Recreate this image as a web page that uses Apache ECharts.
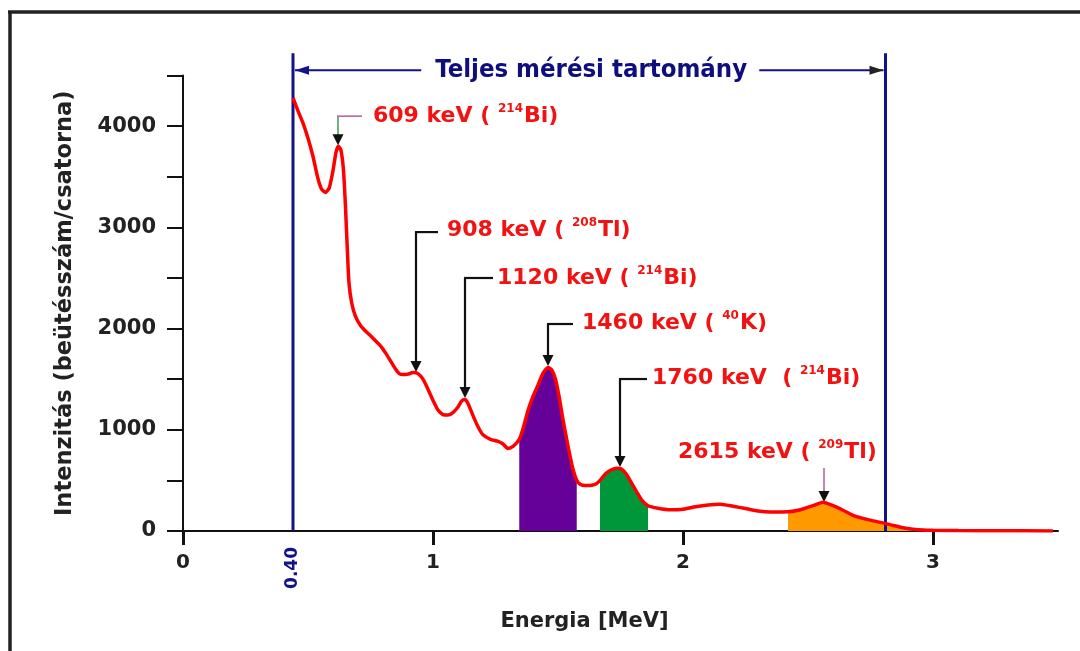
<!DOCTYPE html>
<html><head><meta charset="utf-8">
<script src="https://cdn.jsdelivr.net/npm/echarts@6/dist/echarts.min.js"></script>
<style>html,body{margin:0;padding:0;background:#fff}#c{width:1080px;height:651px}</style>
</head><body><div id="c"></div>
<script>
// ---- data ----
const energy = [0.44,0.46,0.48,0.50,0.52,0.54,0.555,0.57,0.585,0.60,0.612,0.622,0.632,0.642,0.650,0.657,0.664,0.675,0.69,0.71,0.73,0.75,0.77,0.79,0.81,0.83,0.85,0.865,0.88,0.90,0.92,0.94,0.96,0.98,1.00,1.02,1.04,1.06,1.08,1.10,1.115,1.128,1.14,1.16,1.18,1.20,1.23,1.26,1.28,1.30,1.32,1.345,1.36,1.38,1.40,1.42,1.44,1.46,1.475,1.49,1.505,1.52,1.54,1.56,1.575,1.59,1.61,1.635,1.655,1.668,1.69,1.71,1.735,1.755,1.775,1.795,1.815,1.835,1.86,1.90,1.95,2.00,2.05,2.10,2.15,2.20,2.25,2.30,2.35,2.42,2.47,2.52,2.56,2.60,2.64,2.68,2.72,2.76,2.80,2.84,2.88,2.92,2.96,3.00,3.10,3.25,3.48];
const intensity = [4280,4150,4030,3880,3700,3480,3375,3345,3390,3560,3740,3800,3760,3560,3200,2800,2450,2250,2120,2030,1975,1930,1880,1830,1760,1680,1600,1555,1545,1550,1565,1555,1500,1400,1290,1195,1150,1145,1170,1225,1285,1300,1260,1140,1030,950,905,885,860,815,835,905,1010,1190,1330,1440,1560,1615,1590,1500,1320,1100,840,610,500,460,450,452,470,500,565,600,620,610,555,470,385,305,250,225,210,215,240,258,265,245,222,198,188,190,210,250,285,250,205,155,125,100,80,55,32,18,10,7,4,2,1];
const xTickValues = [0,1,2,3];
const yTickValues = [0,500,1000,1500,2000,2500,3000,3500,4000,4500];
const yLabelValues = [0,1000,2000,3000,4000];
const rangeE = [0.44, 2.81];
const rangeLabel = '0.40';
const rangeTitle = 'Teljes mérési tartomány';
const bandStart = [1.345, 1.668, 2.42];
const bandEnd = [1.575, 1.86, 2.96];
const peakText = ['609 keV ( ', '908 keV ( ', '1120 keV ( ', '1460 keV ( ', '1760 keV  ( ', '2615 keV ( '];
const peakMass = ['214', '208', '214', '40', '214', '209'];
const peakElem = ['Bi)', 'Tl)', 'Bi)', 'K)', 'Bi)', 'Tl)'];
const tipE = [0.62, 0.932, 1.128, 1.46, 1.748, 2.564];
const tipI = [3812, 1570, 1314, 1630, 632, 286];
const xName = 'Energia [MeV]';
const yName = 'Intenzitás (beütésszám/csatorna)';

// ---- styles / layout (not data) ----
const bandColors = ['#650099', '#00973a', '#ff9900'];
const FONT = 'DejaVu Sans';
const RED = '#f21212';
const NAVY = '#12128c';
// per-annotation layout, pixel offsets from arrow tip
const annLayout = [
  {dy:-29, hx:24, tx:35, ty:-29, thin:true, vcol:'#3f9a5a', hcol:'#b55a9c'},
  {dy:-140, hx:22, tx:31, ty:-142},
  {dy:-120, hx:28, tx:32, ty:-120},
  {dy:-42, hx:25, tx:34, ty:-43},
  {dy:-88, hx:27, tx:32, ty:-89},
  {dy:-34, hx:0, tx:-146, ty:-50, thin:true, vcol:'#b55a9c', noH:true}
];

const mainData = energy.map((e, i) => [e, intensity[i]]);
const bandSeries = bandStart.map((s, k) => ({
  type: 'line', data: mainData.filter(p => p[0] >= s && p[0] <= bandEnd[k]),
  showSymbol: false, smooth: 0.2, lineStyle: {width: 0}, z: 2,
  areaStyle: {color: bandColors[k], opacity: 1}, silent: true
}));
const rangeSeries = rangeE.map(e => ({
  type: 'line', data: [[e, 0], [e, 4720]], showSymbol: false, clip: false, z: 3,
  lineStyle: {color: NAVY, width: 3}, silent: true
}));

const chart = echarts.init(document.getElementById('c'));
chart.setOption({
  animation: false,
  backgroundColor: '#fff',
  grid: {left: 183, right: 22, top: 75.5, bottom: 120},
  xAxis: {
    type: 'value', min: 0, max: 3.5,
    name: xName, nameLocation: 'middle', nameGap: 80,
    nameTextStyle: {fontFamily: FONT, fontWeight: 'bold', fontSize: 21, color: '#222', padding: [0, 72, 0, 0], verticalAlign: 'top'},
    axisLine: {show: true, lineStyle: {color: '#111', width: 2}},
    axisTick: {show: true, length: 14, lineStyle: {color: '#111', width: 3}, customValues: xTickValues},
    axisLabel: {customValues: xTickValues, margin: 22, fontFamily: FONT, fontWeight: 'bold', fontSize: 20, color: '#222',
      formatter: v => String(v)},
    splitLine: {show: false}
  },
  yAxis: {
    type: 'value', min: 0, max: 4500,
    name: yName, nameLocation: 'middle', nameGap: 106, nameRotate: 90,
    nameTextStyle: {fontFamily: FONT, fontWeight: 'bold', fontSize: 22.5, color: '#222'},
    axisLine: {show: true, lineStyle: {color: '#111', width: 2}},
    axisTick: {show: true, length: 16, lineStyle: {color: '#111', width: 2}, customValues: yTickValues},
    axisLabel: {customValues: yLabelValues, margin: 27, fontFamily: FONT, fontWeight: 'bold', fontSize: 21, color: '#222',
      formatter: v => String(v)},
    splitLine: {show: false}
  },
  series: [
    ...bandSeries,
    ...rangeSeries,
    {type: 'line', data: mainData, showSymbol: false, smooth: 0.2, z: 5,
     lineStyle: {color: '#ff0000', width: 3.5}, silent: true}
  ]
});

const px = (e, i) => chart.convertToPixel({gridIndex: 0}, [e, i]);
const g = [];
// frame
g.push({type: 'line', shape: {x1: 10, y1: 12, x2: 10, y2: 660}, style: {stroke: '#222', lineWidth: 3.5}});
g.push({type: 'line', shape: {x1: 8, y1: 12, x2: 1080, y2: 12}, style: {stroke: '#222', lineWidth: 3.5}});
// range arrows and title
const ax0 = px(rangeE[0], 4553), ax1 = px(rangeE[1], 4553);
const ay = ax0[1], cx = (ax0[0] + ax1[0]) / 2 + 2;
g.push({type: 'line', shape: {x1: ax0[0] + 2, y1: ay, x2: cx - 170, y2: ay}, style: {stroke: NAVY, lineWidth: 2}});
g.push({type: 'line', shape: {x1: cx + 168, y1: ay, x2: ax1[0] - 2, y2: ay}, style: {stroke: NAVY, lineWidth: 2}});
g.push({type: 'polygon', shape: {points: [[ax0[0] + 2, ay], [ax0[0] + 16, ay - 4.5], [ax0[0] + 16, ay + 4.5]]}, style: {fill: NAVY}});
g.push({type: 'polygon', shape: {points: [[ax1[0] - 2, ay], [ax1[0] - 16, ay - 4.5], [ax1[0] - 16, ay + 4.5]]}, style: {fill: '#222'}});
g.push({type: 'text', style: {text: rangeTitle, x: cx, y: ay, align: 'center', verticalAlign: 'middle',
  font: 'bold 25.5px "DejaVu Sans Condensed", "DejaVu Sans"', fill: '#0e0e7e'}});
// 0.40 label
const lp = px(rangeE[0], 0);
g.push({type: 'text', x: lp[0], y: lp[1] + 16, rotation: Math.PI / 2,
  style: {text: rangeLabel, x: 0, y: 0, align: 'right', verticalAlign: 'middle', font: 'bold 17px "DejaVu Sans"', fill: NAVY}});
// peak annotations
tipE.forEach((e, k) => {
  const [tx, ty] = px(e, tipI[k]);
  const L = annLayout[k];
  const thin = !!L.thin;
  const vcol = L.vcol || '#111', hcol = L.hcol || '#111';
  const lw = thin ? 1.5 : 2.2;
  g.push({type: 'line', shape: {x1: tx, y1: ty + L.dy, x2: tx, y2: ty - 8}, style: {stroke: vcol, lineWidth: lw}});
  if (!L.noH) g.push({type: 'line', shape: {x1: tx - 1, y1: ty + L.dy, x2: tx + L.hx, y2: ty + L.dy}, style: {stroke: hcol, lineWidth: lw}});
  g.push({type: 'polygon', shape: {points: [[tx, ty], [tx - 5.5, ty - 11], [tx + 5.5, ty - 11]]}, style: {fill: '#111'}});
  g.push({type: 'text', style: {
    text: '{t|' + peakText[k] + '}{s|' + peakMass[k] + '}{t|' + peakElem[k] + '}',
    x: tx + L.tx, y: ty + L.ty, align: 'left', verticalAlign: 'middle',
    rich: {
      t: {fontFamily: FONT, fontWeight: 'bold', fontSize: 22, fill: RED, lineHeight: 26},
      s: {fontFamily: FONT, fontWeight: 'bold', fontSize: 12, fill: RED, lineHeight: 26, verticalAlign: 'top', padding: [0, 1, 12, 0]}
    }}});
});
chart.setOption({graphic: g});
</script></body></html>
